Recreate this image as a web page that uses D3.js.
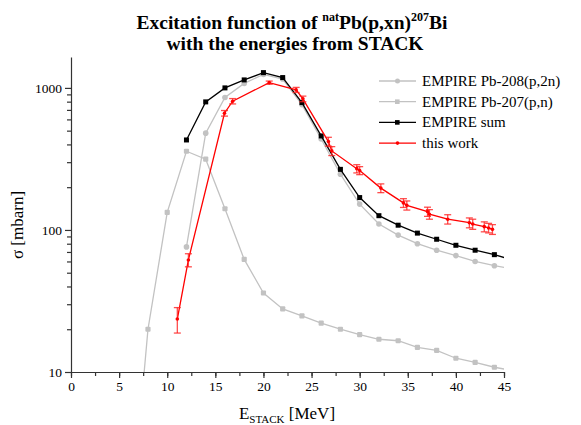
<!DOCTYPE html>
<html>
<head>
<meta charset="utf-8">
<script src="https://cdn.jsdelivr.net/npm/d3@7"></script>
<style>
  body { margin: 0; background: #fff; }
  svg text { font-family: "Liberation Serif", "Times New Roman", serif; }
</style>
</head>
<body>
<svg id="chart"></svg>
<script>
// EMPIRE calculations (energy grid in MeV, cross section in mbarn)
var pb208Energy = [12, 14, 16, 18, 20, 22, 24, 26, 28, 30, 32, 34, 36, 38, 40, 42, 44, 46];
var pb208Sigma  = [76, 480, 855, 1076, 1245, 1154, 763, 437, 247, 152, 110, 92, 80, 72, 66, 60, 56, 53];

var pb207Energy = [6, 8, 10, 12, 14, 16, 18, 20, 22, 24, 26, 28, 30, 32, 34, 36, 38, 40, 42, 44, 46];
var pb207Sigma  = [0.6, 20, 133, 358, 315, 141, 62, 36, 27.8, 24.8, 22.1, 20, 18.3, 17, 16.6, 14.9, 14.2, 12.5, 11.7, 10.8, 10.2];

var sumEnergy = [12, 14, 16, 18, 20, 22, 24, 26, 28, 30, 32, 34, 36, 38, 40, 42, 44, 46];
var sumSigma  = [430, 797, 1000, 1138, 1281, 1182, 788, 459, 267, 169, 126, 108, 95, 86, 78, 72, 67, 61];

// measured points, this work
var expEnergy = [11.05, 12.2, 15.95, 16.8, 20.6, 23.4, 24.1, 26.75, 27.1, 29.7, 30.0, 32.2, 34.55, 34.9, 37.05, 37.25, 39.15, 41.4, 41.75, 42.95, 43.4, 43.8];
var expSigma  = [23.6, 61.5, 663, 806, 1089, 968, 837, 419, 360, 270, 262, 197, 155, 149, 134.6, 129, 119, 112.5, 110, 105.5, 103.3, 101];
var expError  = [4.8, 6.5, 30, 35, 28, 40, 38, 30, 26, 18, 17, 14, 11, 11, 10, 10, 9, 9, 9, 8.5, 8, 8];

var xTicks = [0, 5, 10, 15, 20, 25, 30, 35, 40, 45];
var yTicks = [10, 100, 1000];

var legendNames = ["EMPIRE Pb-208(p,2n)", "EMPIRE Pb-207(p,n)", "EMPIRE sum", "this work"];

var width = 581, height = 425;
var plotLeft = 71, plotRight = 504, plotTop = 57, plotBottom = 372;

var svg = d3.select("#chart").attr("width", width).attr("height", height);

var x = d3.scaleLinear().domain([0, 45]).range([plotLeft, plotRight]);
var y = d3.scaleLog().domain([10, 1650]).range([plotBottom, plotTop]);

svg.append("defs").append("clipPath").attr("id", "plotClip")
    .append("rect")
    .attr("x", plotLeft).attr("y", plotTop)
    .attr("width", plotRight - plotLeft).attr("height", plotBottom - plotTop);

// ---------------------------------------------------------------
// axes

var xMinor = d3.range(0, 45.1, 2.5);
svg.append("g")
    .attr("transform", "translate(0," + plotBottom + ")")
    .call(d3.axisBottom(x).tickValues(xMinor).tickSize(4).tickFormat(""))
    .call(function (g) { g.select(".domain").remove(); });

svg.append("g")
    .attr("class", "x axis")
    .attr("transform", "translate(0," + plotBottom + ")")
    .call(d3.axisBottom(x).tickValues(xTicks).tickSize(6).tickSizeOuter(0).tickPadding(3))
    .call(function (g) {
        g.selectAll("text").style("font-size", "13.5px").attr("fill", "#000");
    });

var yMinor = [];
[10, 100, 1000].forEach(function (d) {
    for (var k = 2; k <= 9; k++) {
        if (d * k <= 1650) yMinor.push(d * k);
    }
});
svg.append("g")
    .attr("transform", "translate(" + plotLeft + ",0)")
    .call(d3.axisLeft(y).tickValues(yMinor).tickSize(4).tickFormat(""))
    .call(function (g) { g.select(".domain").remove(); });

svg.append("g")
    .attr("class", "y axis")
    .attr("transform", "translate(" + plotLeft + ",0)")
    .call(d3.axisLeft(y).tickValues(yTicks).tickSize(6).tickSizeOuter(0).tickPadding(3).tickFormat(d3.format("d")))
    .call(function (g) {
        g.selectAll("text").style("font-size", "13.5px").attr("fill", "#000");
    });

svg.selectAll(".domain, .tick line").attr("stroke", "#333").attr("stroke-width", 1.2);

// axis titles
var xLabel = svg.append("text")
    .attr("x", 287)
    .attr("y", 419)
    .attr("text-anchor", "middle")
    .style("font-size", "17px");
xLabel.append("tspan").text("E");
xLabel.append("tspan").attr("dy", 4).style("font-size", "11px").text("STACK");
xLabel.append("tspan").attr("dy", -4).text(" [MeV]");

svg.append("text")
    .attr("transform", "translate(23,225) rotate(-90)")
    .attr("text-anchor", "middle")
    .style("font-size", "17px")
    .text("σ [mbarn]");

// title
var t1 = svg.append("text")
    .attr("x", 292).attr("y", 29)
    .attr("text-anchor", "middle")
    .style("font-size", "19.5px").style("font-weight", "bold");
t1.append("tspan").text("Excitation function of ");
t1.append("tspan").attr("dy", -8).style("font-size", "12px").text("nat");
t1.append("tspan").attr("dy", 8).text("Pb(p,xn)");
t1.append("tspan").attr("dy", -8).style("font-size", "12px").text("207");
t1.append("tspan").attr("dy", 8).text("Bi");

svg.append("text")
    .attr("x", 295).attr("y", 50)
    .attr("text-anchor", "middle")
    .style("font-size", "19.5px").style("font-weight", "bold")
    .text("with the energies from STACK");

// ---------------------------------------------------------------
// series

var plot = svg.append("g").attr("clip-path", "url(#plotClip)");

function zip(xs, ys) {
    return xs.map(function (v, i) { return { e: v, s: ys[i] }; });
}

var line = d3.line()
    .x(function (d) { return x(d.e); })
    .y(function (d) { return y(Math.max(d.s, 0.01)); });

var gray = "#c2c2c2";

// Pb-207(p,n)
var d207 = zip(pb207Energy, pb207Sigma);
plot.append("path").attr("d", line(d207))
    .attr("fill", "none").attr("stroke", gray).attr("stroke-width", 1.3);
plot.selectAll(".m207").data(d207).enter().append("rect")
    .attr("x", function (d) { return x(d.e) - 2.6; })
    .attr("y", function (d) { return y(d.s) - 2.6; })
    .attr("width", 5.2).attr("height", 5.2).attr("rx", 1)
    .attr("fill", gray);

// Pb-208(p,2n)
var d208 = zip(pb208Energy, pb208Sigma);
plot.append("path").attr("d", line(d208))
    .attr("fill", "none").attr("stroke", gray).attr("stroke-width", 1.3);
plot.selectAll(".m208").data(d208).enter().append("circle")
    .attr("cx", function (d) { return x(d.e); })
    .attr("cy", function (d) { return y(d.s); })
    .attr("r", 2.8)
    .attr("fill", gray);

// sum
var dSum = zip(sumEnergy, sumSigma);
plot.append("path").attr("d", line(dSum))
    .attr("fill", "none").attr("stroke", "#000").attr("stroke-width", 1.3);
plot.selectAll(".mSum").data(dSum).enter().append("rect")
    .attr("x", function (d) { return x(d.e) - 2.5; })
    .attr("y", function (d) { return y(d.s) - 2.5; })
    .attr("width", 5).attr("height", 5)
    .attr("fill", "#000");

// this work
var dExp = expEnergy.map(function (v, i) { return { e: v, s: expSigma[i], err: expError[i] }; });
plot.append("path").attr("d", line(dExp))
    .attr("fill", "none").attr("stroke", "#ff0000").attr("stroke-width", 1.3);

var eb = plot.selectAll(".err").data(dExp).enter().append("g")
    .attr("stroke", "#ff2020").attr("stroke-opacity", 0.8).attr("stroke-width", 1.3);
eb.append("line")
    .attr("x1", function (d) { return x(d.e); })
    .attr("x2", function (d) { return x(d.e); })
    .attr("y1", function (d) { return y(d.s + d.err); })
    .attr("y2", function (d) { return y(d.s - d.err); });
eb.append("line")
    .attr("x1", function (d) { return x(d.e) - 3.5; })
    .attr("x2", function (d) { return x(d.e) + 3.5; })
    .attr("y1", function (d) { return y(d.s + d.err); })
    .attr("y2", function (d) { return y(d.s + d.err); });
eb.append("line")
    .attr("x1", function (d) { return x(d.e) - 3.5; })
    .attr("x2", function (d) { return x(d.e) + 3.5; })
    .attr("y1", function (d) { return y(d.s - d.err); })
    .attr("y2", function (d) { return y(d.s - d.err); });

plot.selectAll(".mExp").data(dExp).enter().append("circle")
    .attr("cx", function (d) { return x(d.e); })
    .attr("cy", function (d) { return y(d.s); })
    .attr("r", 1.8)
    .attr("fill", "#ff0000");

// ---------------------------------------------------------------
// legend

var legendStyle = [
    { color: gray, shape: "circle" },
    { color: gray, shape: "square" },
    { color: "#000", shape: "square" },
    { color: "#ff0000", shape: "dot" }
];

var legend = svg.append("g").selectAll("g").data(legendNames).enter().append("g")
    .attr("transform", function (d, i) { return "translate(379," + (81 + i * 20.7) + ")"; });

legend.append("line")
    .attr("x1", 0).attr("x2", 37)
    .attr("stroke", function (d, i) { return legendStyle[i].color; })
    .attr("stroke-width", 1.3);

legend.each(function (d, i) {
    var g = d3.select(this), st = legendStyle[i];
    if (st.shape === "square") {
        g.append("rect").attr("x", 16).attr("y", -2.3).attr("width", 4.6).attr("height", 4.6).attr("fill", st.color);
    } else {
        g.append("circle").attr("cx", 18.5).attr("cy", 0).attr("r", st.shape === "dot" ? 1.8 : 2.5).attr("fill", st.color);
    }
});

legend.append("text")
    .attr("x", 43).attr("y", 5)
    .style("font-size", "15px")
    .text(function (d) { return d; });
</script>
</body>
</html>
